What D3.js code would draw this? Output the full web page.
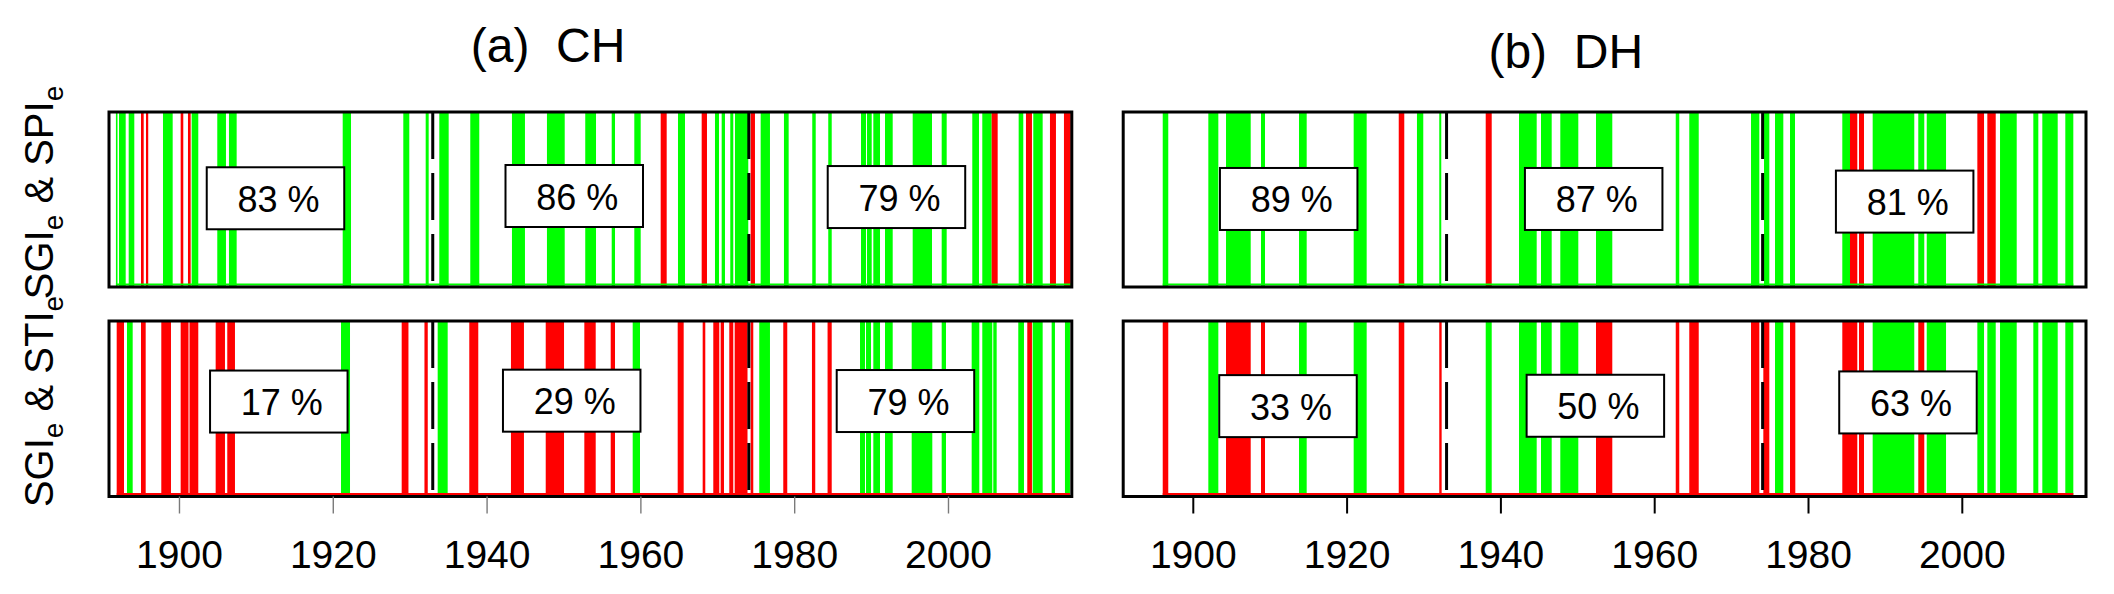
<!DOCTYPE html>
<html><head><meta charset="utf-8">
<script src="https://cdn.jsdelivr.net/npm/d3@7"></script>
<style>html,body{margin:0;padding:0;background:#fff;} svg{display:block;}</style>
</head><body><svg id="chart" width="2114" height="594"></svg>
<script>
// ---------------- data ----------------
const yearTicks = [1900, 1920, 1940, 1960, 1980, 2000];
const panelTitles = ["(a)  CH", "(b)  DH"];
const titleYears = [1948, 1948.5];
const periodBreaks = [1933.0, 1974.1];
const rowLabelMain = [["SGI", " & SPI"], ["SGI", " & STI"]];
const rowLabelSub = "e";

// events: [startYear, endYear, agree(1 = green, 0 = red)]
const chSpiEvents = [
 [1891.8,1892.0,1],[1892.2,1893.07,1],[1893.46,1894.19,1],[1895.06,1895.41,0],[1895.71,1896.0,0],
 [1897.92,1899.18,1],[1900.22,1900.56,0],[1901.17,1901.52,0],[1901.65,1902.51,1],[1904.98,1906.11,1],
 [1906.5,1907.5,1],[1921.29,1922.37,1],[1929.17,1929.95,1],[1932.08,1932.47,1],[1933.85,1935.07,1],
 [1937.88,1939.05,1],[1943.3,1944.99,1],[1947.85,1950.16,1],[1952.83,1954.23,1],[1956.27,1956.7,1],
 [1959.21,1960.04,1],[1962.64,1963.42,0],[1964.89,1965.8,1],[1967.97,1968.66,0],[1969.7,1970.22,1],
 [1970.57,1971.0,1],[1971.69,1972.08,1],[1972.3,1974.03,1],[1974.34,1974.9,0],[1975.64,1976.85,1],
 [1978.67,1979.28,1],[1982.35,1982.8,1],[1984.43,1984.88,1],[1988.69,1989.34,1],[1989.47,1990.08,1],
 [1990.29,1991.16,1],[1991.81,1992.81,1],[1995.41,1997.92,1],[1999.18,1999.83,1],[2003.16,2004.03,1],
 [2004.46,2005.68,1],[2005.68,2006.46,0],[2009.19,2009.79,1],[2010.14,2010.92,0],[2011.09,2012.31,1],
 [2013.26,2014.04,0],[2015.08,2015.96,0]
];
const chStiEvents = [
 [1891.9,1892.85,0],[1893.24,1893.98,1],[1895.06,1895.67,0],[1897.7,1898.96,0],[1900.22,1901.24,0],
 [1901.37,1902.51,0],[1904.77,1905.98,0],[1906.28,1907.28,0],[1921.07,1922.24,1],[1928.96,1929.84,0],
 [1931.92,1932.35,0],[1933.64,1934.94,1],[1937.75,1938.92,0],[1943.17,1944.86,0],[1947.69,1950.07,0],
 [1952.71,1954.19,0],[1956.14,1956.7,0],[1959.0,1959.95,1],[1964.85,1965.63,0],[1968.1,1968.44,0],
 [1969.48,1970.26,0],[1970.44,1970.87,0],[1971.56,1972.08,0],[1972.26,1973.93,0],[1974.34,1974.68,0],
 [1975.46,1976.85,1],[1978.58,1979.1,0],[1982.31,1982.74,0],[1984.34,1984.88,0],[1988.56,1989.21,1],
 [1989.34,1989.99,1],[1990.29,1991.16,1],[1991.81,1992.81,1],[1995.28,1997.96,1],[1999.18,1999.74,1],
 [2003.08,2004.07,1],[2004.46,2005.76,1],[2005.89,2006.33,1],[2009.14,2009.88,1],[2010.31,2010.92,0],
 [2011.01,2012.31,1],[2013.48,2013.91,1],[2015.21,2015.86,1]
];
const dhSpiEvents = [
 [1896.09,1896.81,1],[1902.02,1903.32,1],[1904.32,1907.53,1],[1908.87,1909.39,1],[1913.81,1914.81,1],
 [1920.92,1922.61,1],[1926.78,1927.5,0],[1929.15,1929.97,1],[1932.05,1932.31,1],[1938.09,1938.87,0],
 [1942.42,1944.72,1],[1945.28,1946.67,1],[1947.79,1950.13,1],[1952.43,1954.55,1],[1962.8,1963.26,1],
 [1964.56,1965.79,1],[1972.59,1973.67,1],[1974.28,1974.97,1],[1975.71,1976.79,1],[1977.66,1978.31,1],
 [1984.46,1985.46,1],[1985.46,1986.41,0],[1986.63,1987.28,0],[1988.41,1993.82,1],[1994.34,1995.12,1],
 [1995.44,1997.95,1],[2002.02,2002.89,0],[2003.32,2004.41,0],[2004.97,2007.14,1],[2009.3,2009.95,1],
 [2010.47,2012.47,1],[2013.46,2014.5,1]
];
const dhStiEvents = [
 [1896.09,1896.81,0],[1902.02,1903.32,1],[1904.32,1907.53,0],[1908.87,1909.39,0],[1913.81,1914.81,1],
 [1920.92,1922.61,1],[1926.78,1927.5,0],[1932.05,1932.36,0],[1938.09,1938.87,1],[1942.42,1944.72,1],
 [1945.28,1946.67,1],[1947.79,1950.13,1],[1952.43,1954.55,0],[1962.8,1963.26,0],[1964.56,1965.79,0],
 [1972.59,1973.67,0],[1974.19,1974.97,0],[1975.71,1976.79,1],[1977.66,1978.35,0],[1984.46,1986.41,0],
 [1986.63,1987.28,0],[1988.41,1993.82,1],[1994.34,1995.12,0],[1995.44,1997.95,1],[2002.02,2002.89,1],
 [2003.32,2004.41,1],[2004.97,2007.14,1],[2009.3,2009.95,1],[2010.47,2012.47,1],[2013.46,2014.5,1]
];

// agreement percentages per period, with their label anchors (year, level 0..1 in the row)
const chSpiPct = [83, 86, 79];
const chStiPct = [17, 29, 79];
const dhSpiPct = [89, 87, 81];
const dhStiPct = [33, 50, 63];
const chSpiPctYears = [1912.55, 1951.4, 1993.3];
const chStiPctYears = [1912.98, 1951.07, 1994.47];
const dhSpiPctYears = [1912.47, 1952.13, 1992.57];
const dhStiPctYears = [1912.38, 1952.35, 1993.0];
const chSpiPctLevels = [0.507, 0.52, 0.514];
const chStiPctLevels = [0.541, 0.546, 0.544];
const dhSpiPctLevels = [0.503, 0.503, 0.488];
const dhStiPctLevels = [0.515, 0.517, 0.536];

// ---------------- drawing ----------------
const svg = d3.select("#chart");
const FONT = "'Liberation Sans', Arial, Helvetica, sans-serif";
const GREEN = "#00ff00", RED = "#ff0000";
const colorOf = d => d[2] === 1 ? GREEN : RED;

const rowBands = [[112, 287], [321, 496.5]];

const panels = [
  { x: d3.scaleLinear().domain([1890.9, 2016.1]).range([109, 1071.8]),
    title: panelTitles[0], titleYear: titleYears[0], titleBase: 62,
    tickColor: "#7a7a7a", tickWidth: 1.4,
    rows: [
      { events: chSpiEvents, pct: chSpiPct, years: chSpiPctYears, levels: chSpiPctLevels },
      { events: chStiEvents, pct: chStiPct, years: chStiPctYears, levels: chStiPctLevels } ] },
  { x: d3.scaleLinear().domain([1890.95, 2016.15]).range([1123.2, 2086]),
    title: panelTitles[1], titleYear: titleYears[1], titleBase: 68,
    tickColor: "#000", tickWidth: 2,
    rows: [
      { events: dhSpiEvents, pct: dhSpiPct, years: dhSpiPctYears, levels: dhSpiPctLevels },
      { events: dhStiEvents, pct: dhStiPct, years: dhStiPctYears, levels: dhStiPctLevels } ] }
];

panels.forEach(p => {
  const g = svg.append("g");
  p.rows.forEach((r, ri) => {
    const [top, bottom] = rowBands[ri];
    const y = d3.scaleLinear().domain([0, 1]).range([bottom, top]);
    const rg = g.append("g");

    rg.selectAll("rect.bar").data(r.events).join("rect")
      .attr("class", "bar")
      .attr("x", d => p.x(d[0]))
      .attr("width", d => Math.max(p.x(d[1]) - p.x(d[0]), 1.6))
      .attr("y", y(1))
      .attr("height", y(0) - y(1))
      .attr("fill", colorOf);

    // baseline trace
    const first = r.events[0], last = r.events[r.events.length - 1];
    rg.append("line")
      .attr("x1", p.x(first[0])).attr("x2", p.x(last[1]))
      .attr("y1", y(0) - 2.5).attr("y2", y(0) - 2.5)
      .attr("stroke", colorOf(first)).attr("stroke-width", 2);

    // period separators
    rg.selectAll("line.brk").data(periodBreaks).join("line")
      .attr("class", "brk")
      .attr("x1", d => p.x(d)).attr("x2", d => p.x(d))
      .attr("y1", y(1)).attr("y2", y(0))
      .attr("stroke", "#000").attr("stroke-width", 3)
      .attr("stroke-dasharray", "47,14");

    // frame
    rg.append("rect")
      .attr("x", p.x.range()[0]).attr("y", y(1))
      .attr("width", p.x.range()[1] - p.x.range()[0])
      .attr("height", y(0) - y(1))
      .attr("fill", "none").attr("stroke", "#000").attr("stroke-width", 3);

    // percent boxes
    const lab = rg.selectAll("g.pct").data(r.pct).join("g").attr("class", "pct")
      .attr("transform", (d, i) => `translate(${p.x(r.years[i])},${y(r.levels[i])})`);
    lab.append("rect")
      .attr("x", -68.75).attr("y", -31).attr("width", 137.5).attr("height", 62)
      .attr("fill", "#fff").attr("stroke", "#000").attr("stroke-width", 2);
    lab.append("text")
      .attr("x", 3).attr("y", 13.5)
      .attr("text-anchor", "middle")
      .attr("font-family", FONT).attr("font-size", 36)
      .style("white-space", "pre")
      .text(d => d + " %");
  });

  // x axis
  const ax = g.append("g")
    .attr("transform", `translate(0,${rowBands[1][1]})`)
    .call(d3.axisBottom(p.x).tickValues(yearTicks).tickFormat(d3.format("d")).tickSize(17));
  ax.select(".domain").remove();
  ax.selectAll(".tick line").attr("stroke", p.tickColor).attr("stroke-width", p.tickWidth);
  ax.selectAll(".tick text")
    .attr("y", 568 - rowBands[1][1]).attr("dy", null)
    .attr("fill", "#000")
    .attr("font-family", FONT).attr("font-size", 39);

  // title
  g.append("text")
    .attr("x", p.x(p.titleYear)).attr("y", p.titleBase)
    .attr("text-anchor", "middle")
    .attr("font-family", FONT).attr("font-size", 48)
    .style("white-space", "pre")
    .text(p.title);
});

// y labels
const labelCenters = [192.5, 401.5];
rowLabelMain.forEach((parts, i) => {
  const t = svg.append("text")
    .attr("transform", `translate(53,${labelCenters[i]}) rotate(-90)`)
    .attr("text-anchor", "middle")
    .attr("font-family", FONT).attr("font-size", 40)
    .style("white-space", "pre");
  t.append("tspan").text(parts[0]);
  t.append("tspan").attr("dy", 10).attr("font-size", 28).text(rowLabelSub);
  t.append("tspan").attr("dy", -10).text(parts[1]);
  t.append("tspan").attr("dy", 10).attr("font-size", 28).text(rowLabelSub);
});
</script>
</body></html>
